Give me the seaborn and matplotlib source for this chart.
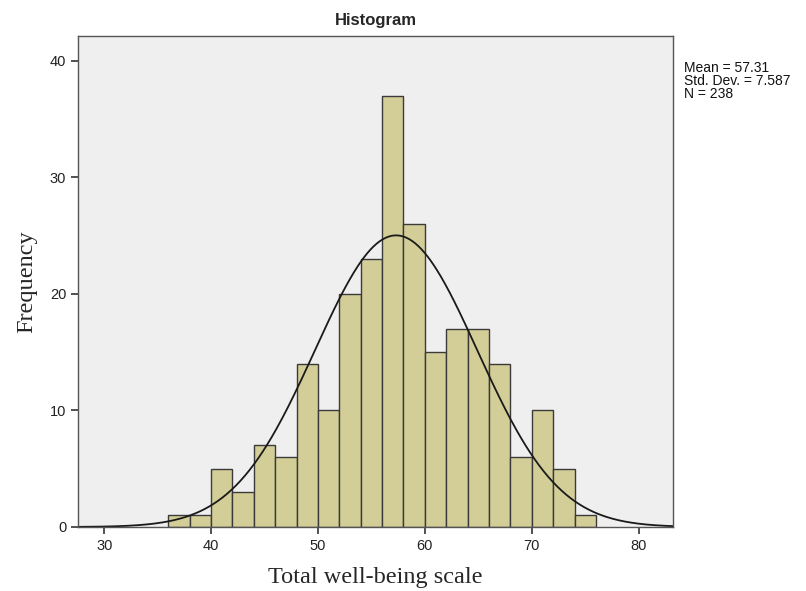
import numpy as np
import pandas as pd
import matplotlib
matplotlib.use("Agg")
import matplotlib.pyplot as plt
import seaborn as sns

# Data
bin_edges = [36, 38, 40, 42, 44, 46, 48, 50, 52, 54, 56, 58, 60, 62, 64, 66, 68, 70, 72, 74, 76]
counts = [1, 1, 5, 3, 7, 6, 14, 10, 20, 23, 37, 26, 15, 17, 17, 14, 6, 10, 5, 1]
mean_val = 57.31
sd_val = 7.587
n_val = 238
x_ticks = [30, 40, 50, 60, 70, 80]
y_ticks = [0, 10, 20, 30, 40]

sns.set_theme(style="white")
plt.rcParams['font.family'] = ['Liberation Sans', 'DejaVu Sans']

centers = [(a + b) / 2 for a, b in zip(bin_edges[:-1], bin_edges[1:])]
df = pd.DataFrame({"value": centers, "count": counts})

fig = plt.figure(figsize=(8.06, 5.91), dpi=100)
ax = fig.add_axes([0.0968, 0.1083, 0.738, 0.831])
ax.set_facecolor("#efefef")

sns.histplot(data=df, x="value", weights="count", bins=bin_edges, ax=ax,
             color="#d3ce97", edgecolor="#3a3a3a", linewidth=1.0, alpha=1.0)

binw = bin_edges[1] - bin_edges[0]
xs = np.linspace(27.5, 83.3, 400)
ys = n_val * binw / (sd_val * np.sqrt(2 * np.pi)) * np.exp(-0.5 * ((xs - mean_val) / sd_val) ** 2)
sns.lineplot(x=xs, y=ys, ax=ax, color="#1a1a1a", linewidth=1.3)

ax.set_xlim(27.55, 83.2)
ax.set_ylim(0, 42.15)
ax.set_xticks(x_ticks)
ax.set_yticks(y_ticks)
ax.tick_params(axis="both", direction="out", length=5, width=1.2, color="#333333",
               labelsize=10.5, labelcolor="#222222", bottom=True, left=True)
for s in ax.spines.values():
    s.set_color("#555555")
    s.set_linewidth(1.0)

ax.set_title("Histogram", fontsize=12, fontweight="bold", pad=8)
ax.set_xlabel("Total well-being scale", family=["Liberation Serif", "DejaVu Serif"],
              fontsize=17.5, labelpad=10)
ax.set_ylabel("Frequency", family=["Liberation Serif", "DejaVu Serif"],
              fontsize=17.5, labelpad=9)

fig.text(684 / 806, 1 - 61 / 591,
         f"Mean = {mean_val:.2f}\nStd. Dev. = {sd_val:.3f}\nN = {n_val}",
         fontsize=10, va="top", ha="left", color="#111111", linespacing=0.92)

fig.savefig("out.png", dpi=100)
